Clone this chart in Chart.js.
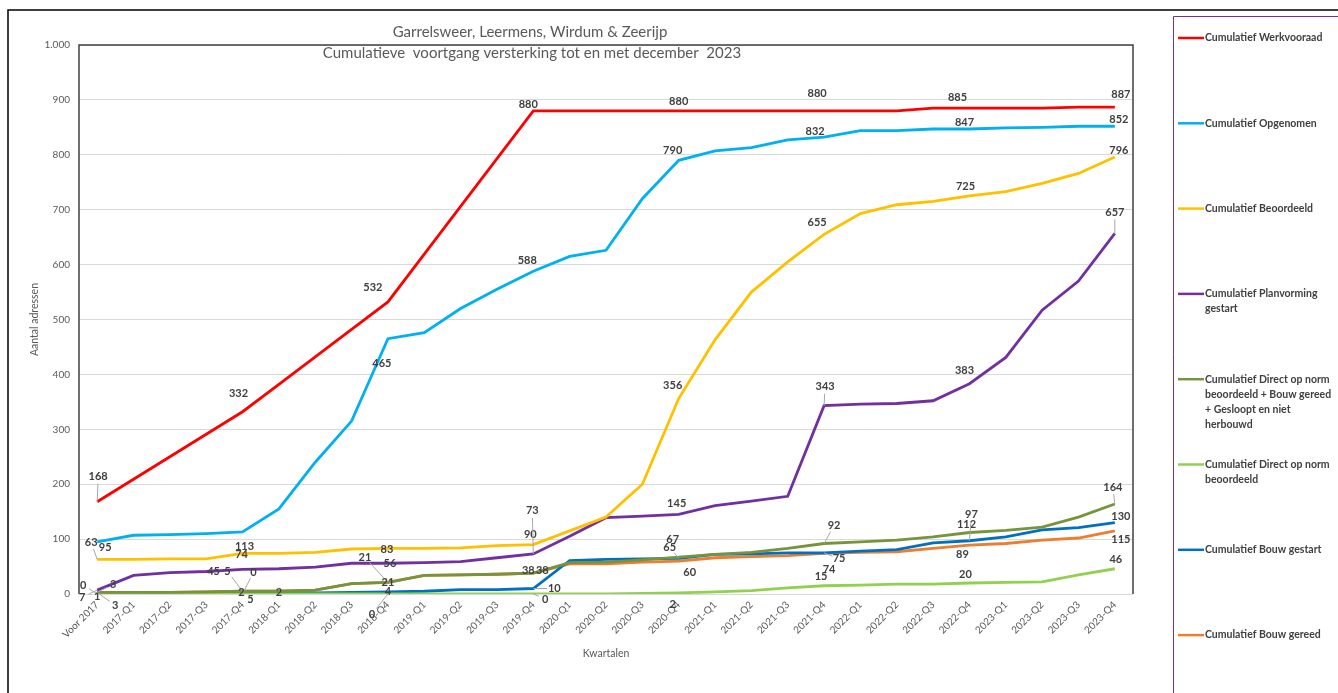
<!DOCTYPE html>
<html>
<head>
<meta charset="utf-8">
<script src="https://cdn.jsdelivr.net/npm/chart.js@4"></script>
<style>
html, body { margin: 0; padding: 0; background: #fff; }
#wrap { width: 1338px; height: 693px; position: relative; }
</style>
</head>
<body>
<div id="wrap"><canvas id="chart"></canvas></div>
<script>
// kwartalen op de x-as
const kwartalen = ['Voor 2017',
  '2017-Q1', '2017-Q2', '2017-Q3', '2017-Q4',
  '2018-Q1', '2018-Q2', '2018-Q3', '2018-Q4',
  '2019-Q1', '2019-Q2', '2019-Q3', '2019-Q4',
  '2020-Q1', '2020-Q2', '2020-Q3', '2020-Q4',
  '2021-Q1', '2021-Q2', '2021-Q3', '2021-Q4',
  '2022-Q1', '2022-Q2', '2022-Q3', '2022-Q4',
  '2023-Q1', '2023-Q2', '2023-Q3', '2023-Q4'];

const werkvooraad = [168, 209, 250, 291, 332, 382, 432, 482, 532, 619, 706, 793, 880,
  880, 880, 880, 880, 880, 880, 880, 880, 880, 880, 885, 885, 885, 885, 887, 887];
const opgenomen = [95, 107, 108, 110, 113, 155, 240, 315, 465, 476, 520, 555, 588,
  615, 626, 720, 790, 807, 813, 827, 832, 844, 844, 847, 847, 849, 850, 852, 852];
const beoordeeld = [63, 63, 64, 64, 74, 74, 76, 82, 83, 83, 84, 88, 90,
  115, 140, 200, 356, 463, 550, 605, 655, 693, 709, 715, 725, 733, 748, 766, 796];
const planvorming = [7, 34, 39, 41, 45, 46, 49, 56, 56, 57, 59, 66, 73,
  105, 139, 142, 145, 161, 169, 178, 343, 346, 347, 352, 383, 431, 517, 570, 657];
const directPlusGereed = [3, 3, 3, 4, 5, 5, 7, 19, 21, 34, 35, 36, 38,
  57, 58, 62, 67, 72, 76, 83, 92, 95, 98, 104, 112, 116, 122, 140, 164];
const directOpNorm = [0, 0, 0, 0, 0, 0, 0, 0, 0, 0, 0, 0, 0,
  0, 0, 1, 2, 4, 6, 11, 15, 16, 18, 18, 20, 21, 22, 35, 46];
const bouwGestart = [1, 1, 1, 1, 2, 2, 2, 3, 4, 5, 8, 8, 10,
  61, 63, 64, 65, 72, 73, 75, 75, 78, 81, 93, 97, 104, 117, 121, 130];
const bouwGereed = [3, 3, 3, 4, 5, 5, 7, 19, 21, 34, 35, 36, 38,
  55, 55, 58, 60, 66, 68, 70, 74, 76, 77, 83, 89, 92, 98, 102, 115];

const reeksNamen = [
  ['Cumulatief Werkvooraad'],
  ['Cumulatief Opgenomen'],
  ['Cumulatief Beoordeeld'],
  ['Cumulatief Planvorming', 'gestart'],
  ['Cumulatief Direct op norm', 'beoordeeld + Bouw gereed', '+ Gesloopt en niet', 'herbouwd'],
  ['Cumulatief Direct op norm', 'beoordeeld'],
  ['Cumulatief Bouw gestart'],
  ['Cumulatief Bouw gereed']
];
const kleuren = ['#FF0000', '#00B0F0', '#FFC000', '#7030A0', '#77933C', '#92D050', '#0070C0', '#ED7D31'];

// waar de waardelabels staan: [index, dx, dy, verbindingslijn]
const labelPlekken = [
  [[0, 1, -25, true], [4, -4, -18], [8, -15, -14], [12, -5, -6], [16, 0, -9], [20, -7, -17], [24, -12, -11], [28, 6, -13]],
  [[0, 8, 6], [4, 2, 14], [8, -6, 25], [12, -6, -11], [16, -6, -10], [20, -9, -6], [24, -5, -7], [28, 4, -7]],
  [[0, -6, -17, true], [4, -1, 1], [8, -1, 1], [12, -3, -10], [16, -6, -13], [20, -7, -12], [24, -4, -10], [28, 4, -7]],
  [[0, -15, 7, true], [4, -29, 2], [8, 2, 0], [12, -1, -43, true], [16, -2, -11], [20, 1, -19, true], [24, -5, -13], [28, 0, -21, true]],
  [[0, 16, -8, true], [4, -15, -20, true], [8, -23, -25, true], [12, 9, -3], [16, -6, -18], [20, 10, -18, true], [24, -3, -8], [28, -2, -17, true]],
  [[0, -14, -9, true], [4, 11, -22, true], [8, -16, 20, true], [12, 12, 5, true], [16, -6, 12], [20, -3, -9], [24, -4, -9], [28, 1, -9]],
  [[0, 0, 3], [4, -1, 0], [5, 0, 0], [8, 0, 0], [12, 21, 0, true], [16, -9, -11, true], [20, 15, 6, true], [24, 2, -26, true], [28, 6, -6]],
  [[0, 18, 13, true], [4, 8, 8], [8, 0, 0], [12, -5, -3], [16, 11, 11], [20, 5, 16], [24, -7, 9], [28, 6, 9]]
];

const reeksen = [werkvooraad, opgenomen, beoordeeld, planvorming, directPlusGereed, directOpNorm, bouwGestart, bouwGereed];

const grijs = '#595959';
const font = 'Lato, "Open Sans", sans-serif';

const extra = {
  id: 'extra',
  afterDatasetsDraw(chart) {
    const ctx = chart.ctx, a = chart.chartArea;
    const xs = chart.scales.x, ys = chart.scales.y;
    ctx.save();
    // kader om het plotgebied
    ctx.strokeStyle = '#404040';
    ctx.lineWidth = 1.5;
    ctx.beginPath();
    ctx.moveTo(a.left, a.bottom);
    ctx.lineTo(a.left, a.top);
    ctx.lineTo(a.right, a.top);
    ctx.lineTo(a.right, a.bottom);
    ctx.stroke();

    // waardelabels
    ctx.font = 'bold 11px ' + font;
    ctx.textAlign = 'center';
    ctx.textBaseline = 'middle';
    chart.data.datasets.forEach((ds, d) => {
      (ds.plekken || []).forEach(p => {
        const i = p[0];
        const px = xs.getPixelForValue(i), py = ys.getPixelForValue(ds.data[i]);
        const lx = px + p[1], ly = py + p[2];
        if (p[3]) {
          const vx = lx - px, vy = ly - py, len = Math.sqrt(vx * vx + vy * vy);
          if (len > 9) {
            const f = (len - 7) / len;
            ctx.strokeStyle = '#A6A6A6';
            ctx.lineWidth = 1;
            ctx.beginPath();
            ctx.moveTo(px, py);
            ctx.lineTo(px + vx * f, py + vy * f);
            ctx.stroke();
          }
        }
        ctx.fillStyle = '#404040';
        ctx.fillText(String(ds.data[i]), lx, ly);
      });
    });
    ctx.restore();
  },
  afterDraw(chart) {
    const ctx = chart.ctx, a = chart.chartArea;
    ctx.save();
    // buitenrand
    ctx.strokeStyle = '#000';
    ctx.lineWidth = 1.5;
    ctx.beginPath();
    ctx.moveTo(8, 693);
    ctx.lineTo(8, 10);
    ctx.lineTo(1338, 10);
    ctx.stroke();
    // legenda kader
    ctx.strokeStyle = '#7030A0';
    ctx.lineWidth = 1;
    ctx.beginPath();
    ctx.moveTo(1173.5, 693);
    ctx.lineTo(1173.5, 16.5);
    ctx.lineTo(1338, 16.5);
    ctx.stroke();

    // titel
    ctx.fillStyle = grijs;
    ctx.textAlign = 'center';
    ctx.textBaseline = 'middle';
    ctx.font = '15px ' + font;
    ctx.fillText('Garrelsweer, Leermens, Wirdum & Zeerijp', 530, 32);
    ctx.fillText('Cumulatieve  voortgang versterking tot en met december  2023', 532, 53);

    // astitels
    ctx.font = '10.5px ' + font;
    ctx.fillText('Kwartalen', (a.left + a.right) / 2, 654);
    ctx.save();
    ctx.translate(35, (a.top + a.bottom) / 2);
    ctx.rotate(-Math.PI / 2);
    ctx.fillText('Aantal adressen', 0, 0);
    ctx.restore();

    // legenda
    ctx.textAlign = 'left';
    ctx.font = 'bold 10.5px ' + font;
    chart.data.datasets.forEach((ds, k) => {
      const y = 38 + k * 85.3;
      ctx.strokeStyle = ds.borderColor;
      ctx.lineWidth = 2.5;
      ctx.beginPath();
      ctx.moveTo(1178, y);
      ctx.lineTo(1204, y);
      ctx.stroke();
      ctx.fillStyle = '#404040';
      ds.regels.forEach((r, j) => ctx.fillText(r, 1205, y + j * 15));
    });
    ctx.restore();
  }
};

const ctx = document.getElementById('chart').getContext('2d');
const myChart = new Chart(ctx, {
  type: 'line',
  data: {
    labels: kwartalen,
    datasets: reeksen.map((r, k) => ({
      label: reeksNamen[k].join(' '),
      regels: reeksNamen[k],
      data: r,
      borderColor: kleuren[k],
      backgroundColor: kleuren[k],
      borderWidth: 2.8,
      pointRadius: 0,
      tension: 0,
      plekken: labelPlekken[k]
    }))
  },
  options: {
    responsive: true,
    maintainAspectRatio: false,
    animation: false,
    layout: { padding: { left: 0, top: 45, right: 205, bottom: 0 } },
    plugins: {
      legend: { display: false },
      title: { display: false },
      tooltip: { enabled: false }
    },
    scales: {
      x: {
        offset: true,
        grid: { display: false, drawTicks: false },
        border: { display: false },
        ticks: {
          color: grijs,
          font: { family: font, size: 10 },
          maxRotation: 45,
          minRotation: 45,
          autoSkip: false,
          padding: 5
        },
        afterFit(s) { s.height = 99; }
      },
      y: {
        min: 0,
        max: 1000,
        grid: { color: '#D9D9D9', lineWidth: 1, drawTicks: false },
        border: { display: false },
        ticks: {
          stepSize: 100,
          color: grijs,
          font: { family: font, size: 10 },
          padding: 9,
          callback: v => String(v).replace(/\B(?=(\d{3})+(?!\d))/g, '.')
        },
        afterFit(s) { s.width = 79; }
      }
    }
  },
  plugins: [extra]
});
</script>
</body>
</html>
